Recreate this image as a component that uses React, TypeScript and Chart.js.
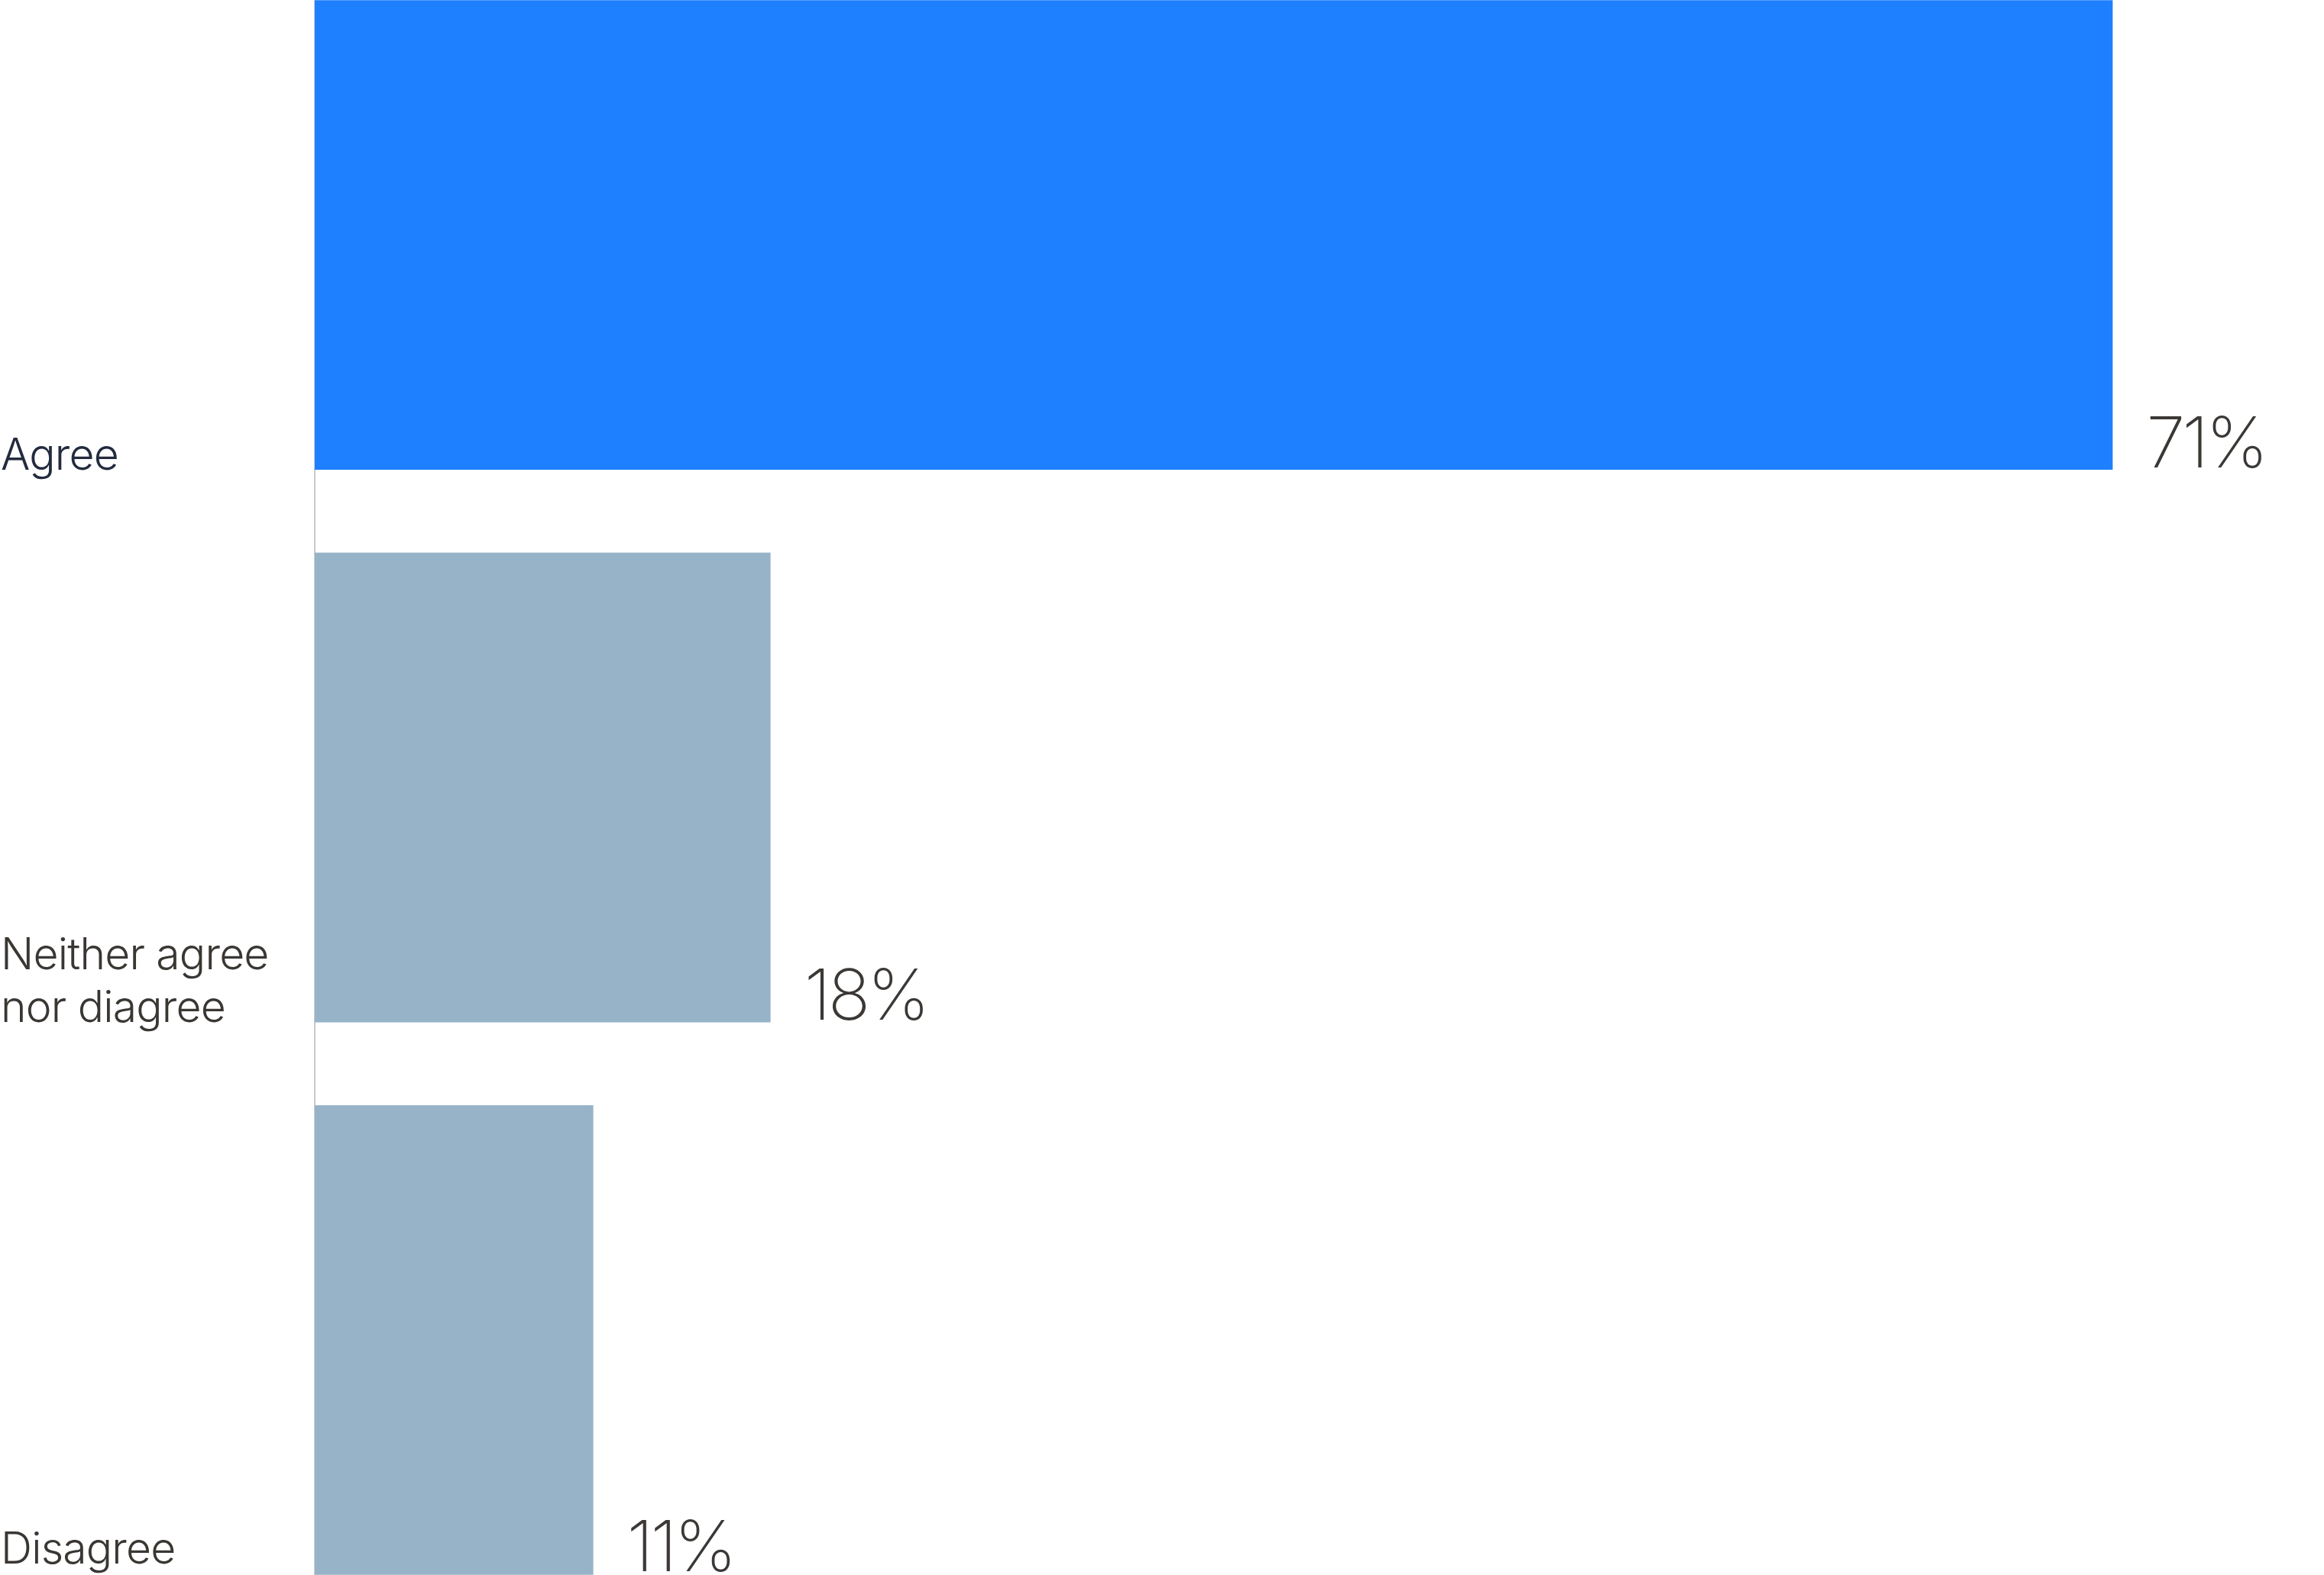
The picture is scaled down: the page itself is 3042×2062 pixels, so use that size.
import React, { useEffect, useRef } from "react";
import { Chart, registerables } from "chart.js";

Chart.register(...registerables);

const categories: string[][] = [["Agree"], ["Neither agree", "nor diagree"], ["Disagree"]];
const values: number[] = [71, 18, 11];
const valueLabels: string[] = ["71%", "18%", "11%"];
const barColors: string[] = ["#1e7fff", "#97b3c8", "#97b3c8"];
const categoryColors: string[] = ["#232b3e", "#3a3733", "#3a3733"];

const TOP_SHIFT = 54;
const PAGE_HEIGHT = 2062;

const labelPlugin = {
  id: "barLabels",
  afterDatasetsDraw(chart: any) {
    const ctx: any = chart.ctx;
    const meta = chart.getDatasetMeta(0);
    const visibleBottom = PAGE_HEIGHT + TOP_SHIFT;
    ctx.save();
    meta.data.forEach((bar: any, i: number) => {
      const props = bar.getProps(["x", "y", "height"], true);
      const bottom = props.y + props.height / 2;
      // value label
      ctx.font = "200 92px Inter";
      ctx.letterSpacing = "-4px";
      ctx.fillStyle = "#3b3835";
      ctx.textAlign = "left";
      ctx.textBaseline = "alphabetic";
      ctx.fillText(valueLabels[i], props.x + 44, Math.min(bottom - 3, visibleBottom - 5));
      // category label
      ctx.font = "300 57px Inter";
      ctx.letterSpacing = "-0.8px";
      ctx.fillStyle = categoryColors[i];
      const lines = categories[i];
      const lastBase = Math.min(bottom, visibleBottom - 15);
      const lineH = 69;
      lines.forEach((line, j) => {
        ctx.fillText(line, 1, lastBase - (lines.length - 1 - j) * lineH);
      });
    });
    ctx.restore();
  },
};

export default function App() {
  const ref = useRef<HTMLCanvasElement>(null);
  useEffect(() => {
    if (!ref.current) return;
    const chart = new Chart(ref.current, {
      type: "bar",
      data: {
        labels: categories.map((c) => c.join(" ")),
        datasets: [
          {
            data: values,
            backgroundColor: barColors,
            borderWidth: 0,
            barPercentage: 0.85,
            categoryPercentage: 1,
          },
        ],
      },
      options: {
        indexAxis: "y",
        animation: false,
        responsive: true,
        maintainAspectRatio: false,
        layout: { padding: { left: 0, right: 144, top: 0, bottom: 0 } },
        scales: {
          x: { type: "linear", min: 0, max: 75, display: false },
          y: {
            type: "category",
            offset: true,
            ticks: { display: false },
            grid: { display: false },
            border: { display: true, color: "#c9c9ce", width: 2 },
            afterFit: (scale: any) => {
              scale.width = 412;
            },
          },
        },
        plugins: {
          legend: { display: false },
          tooltip: { enabled: false },
        },
      },
      plugins: [labelPlugin],
    });
    return () => chart.destroy();
  }, []);
  return (
    <div
      style={{
        position: "absolute",
        left: 0,
        top: -TOP_SHIFT,
        width: 3042,
        height: 2170,
        background: "#ffffff",
      }}
    >
      <canvas ref={ref} />
    </div>
  );
}
